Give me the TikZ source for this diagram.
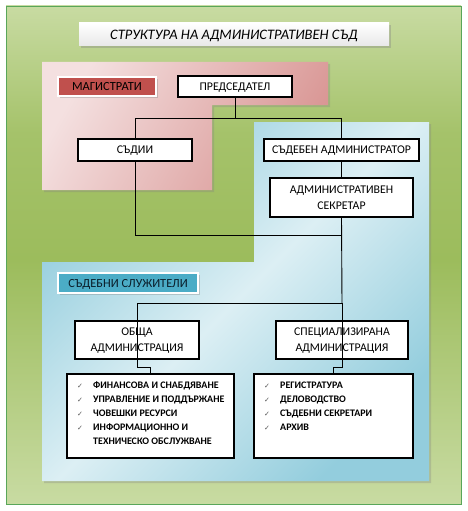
\documentclass[tikz,border=0pt]{standalone}
\usepackage{fontspec}
\setmainfont{Carlito}
\newfontfamily\symfont{DejaVu Sans}
\usetikzlibrary{shadows}
\definecolor{gLight}{HTML}{C8DBA2}
\definecolor{gDark}{HTML}{9CBC5C}
\definecolor{pLight}{HTML}{F4E0E0}
\definecolor{pDark}{HTML}{D99694}
\definecolor{bLight}{HTML}{DCEFF4}
\definecolor{bDark}{HTML}{93CDDD}
\definecolor{redTag}{HTML}{C0504D}
\definecolor{blueTag}{HTML}{4BACC6}
\definecolor{chk}{HTML}{555555}
\definecolor{tagtextb}{HTML}{0A1E2A}
\tikzset{
  unitbox/.style={draw=black, line width=1.1pt, fill=white, align=center, inner sep=0pt, text depth=0pt, font=\fontsize{11.8}{16}\selectfont},
  tagbox/.style={draw=white, line width=2pt, inner sep=0pt, text depth=0pt, font=\fontsize{12.4}{14}\selectfont,
     drop shadow={opacity=0.35, shadow xshift=2pt, shadow yshift=-2pt}},
  conn/.style={draw=black, line width=0.9pt},
  listbox/.style={draw=black, line width=1.1pt, fill=white, inner sep=0pt},
  item/.style={anchor=base west, inner sep=0pt, font=\fontsize{10}{12}\bfseries\selectfont},
  tick/.style={anchor=base, inner sep=0pt, text=chk, font=\symfont\fontsize{7}{7}\selectfont}
}
\begin{document}
\begin{tikzpicture}[x=1pt, y=-1pt]
\useasboundingbox (0,0) rectangle (467,511);
\fill[white] (0,0) rectangle (467,511);
% green background
\shade[top color=gLight, bottom color=gDark, middle color=gDark!80!gLight] (6,6) rectangle (461,260);
\shade[top color=gDark, bottom color=gLight] (6,260) rectangle (461,504);
\draw[gray!70!green, line width=0.6pt] (6,6) rectangle (461,504);
% title
\node[draw=none, minimum width=310pt, minimum height=23pt, inner sep=0pt, text depth=0pt,
  top color=white, bottom color=gray!18,
  drop shadow={opacity=0.35, shadow xshift=1.5pt, shadow yshift=-2pt},
  font=\fontsize{14.5}{16}\itshape\selectfont] (title) at (234,34.5) {СТРУКТУРА НА АДМИНИСТРАТИВЕН СЪД};
% pink region
\shade[left color=pLight, right color=pDark, shading angle=60,
  drop shadow={opacity=0.3, shadow xshift=2pt, shadow yshift=-2pt}]
  (42,62) -- (328,62) -- (328,105) -- (212,105) -- (212,190) -- (42,190) -- cycle;
% blue region
\shade[top color=bDark, bottom color=bDark, middle color=bLight, shading angle=45,
  drop shadow={opacity=0.3, shadow xshift=2pt, shadow yshift=-2pt}]
  (254,122) -- (429,122) -- (429,481) -- (42,481) -- (42,262) -- (254,262) -- cycle;
% tags
\node[tagbox, fill=redTag, text=black, minimum width=98pt, minimum height=19pt] (mag) at (107,86.5) {МАГИСТРАТИ};
\node[tagbox, fill=blueTag, text=tagtextb, minimum width=140pt, minimum height=20pt] (sl) at (128,283) {СЪДЕБНИ СЛУЖИТЕЛИ};
% units
\node[unitbox, minimum width=114pt, minimum height=21pt] (pred) at (235,86.5) {ПРЕДСЕДАТЕЛ};
\node[unitbox, minimum width=114pt, minimum height=22pt] (sad) at (135,150) {СЪДИИ};
\node[unitbox, minimum width=155pt, minimum height=22pt] (sadm) at (341.5,150) {СЪДЕБЕН АДМИНИСТРАТОР};
\node[unitbox, minimum width=143pt, minimum height=39pt] (sekr) at (341.5,197.5) {АДМИНИСТРАТИВЕН\\СЕКРЕТАР};
\node[unitbox, minimum width=124pt, minimum height=38pt] (obsh) at (137,340) {ОБЩА\\АДМИНИСТРАЦИЯ};
\node[unitbox, minimum width=132pt, minimum height=38pt] (spec) at (342,340) {СПЕЦИАЛИЗИРАНА\\АДМИНИСТРАЦИЯ};
\node[listbox, minimum width=167pt, minimum height=84pt] (lst1) at (150.5,416) {};
\node[listbox, minimum width=159pt, minimum height=84pt] (lst2) at (333.5,416) {};
% connectors
\coordinate (j1) at (235,118);
\coordinate (j2) at (342,235);
\coordinate (j3) at (342,303);
\draw[conn] (pred.south) -- (j1);
\draw[conn] (j1) -| (sad.north);
\draw[conn] (j1) -| (sadm.north);
\draw[conn, line width=1.6pt] (sadm.south) -- (sekr.north);
\draw[conn] (sad.south) |- (j2);
\draw[conn] (sekr.south) -- (j3);
\draw[conn] (j3) -| (obsh.south);
\draw[conn] (j3) -| (spec.south);
\draw[conn] (obsh.south) -- ++(0,8) -| (lst1.north);
\draw[conn] (spec.south) -- ++(0,8) -| (lst2.north);
% list items
\foreach \y/\t [count=\i] in {388/ФИНАНСОВА И СНАБДЯВАНЕ, 402/УПРАВЛЕНИЕ И ПОДДЪРЖАНЕ, 416/ЧОВЕШКИ РЕСУРСИ, 430/ИНФОРМАЦИОННО И}{
  \node[tick] (ta\i) at (80,\y) {✓};
  \node[item] (ia\i) at (93,\y) {\t};
}
\node[item] (ia5) at (93,444) {ТЕХНИЧЕСКО ОБСЛУЖВАНЕ};
\foreach \y/\t [count=\i] in {388/РЕГИСТРАТУРА, 402/ДЕЛОВОДСТВО, 416/СЪДЕБНИ СЕКРЕТАРИ, 430/АРХИВ}{
  \node[tick] (tb\i) at (267,\y) {✓};
  \node[item] (ib\i) at (280,\y) {\t};
}
\end{tikzpicture}
\end{document}
